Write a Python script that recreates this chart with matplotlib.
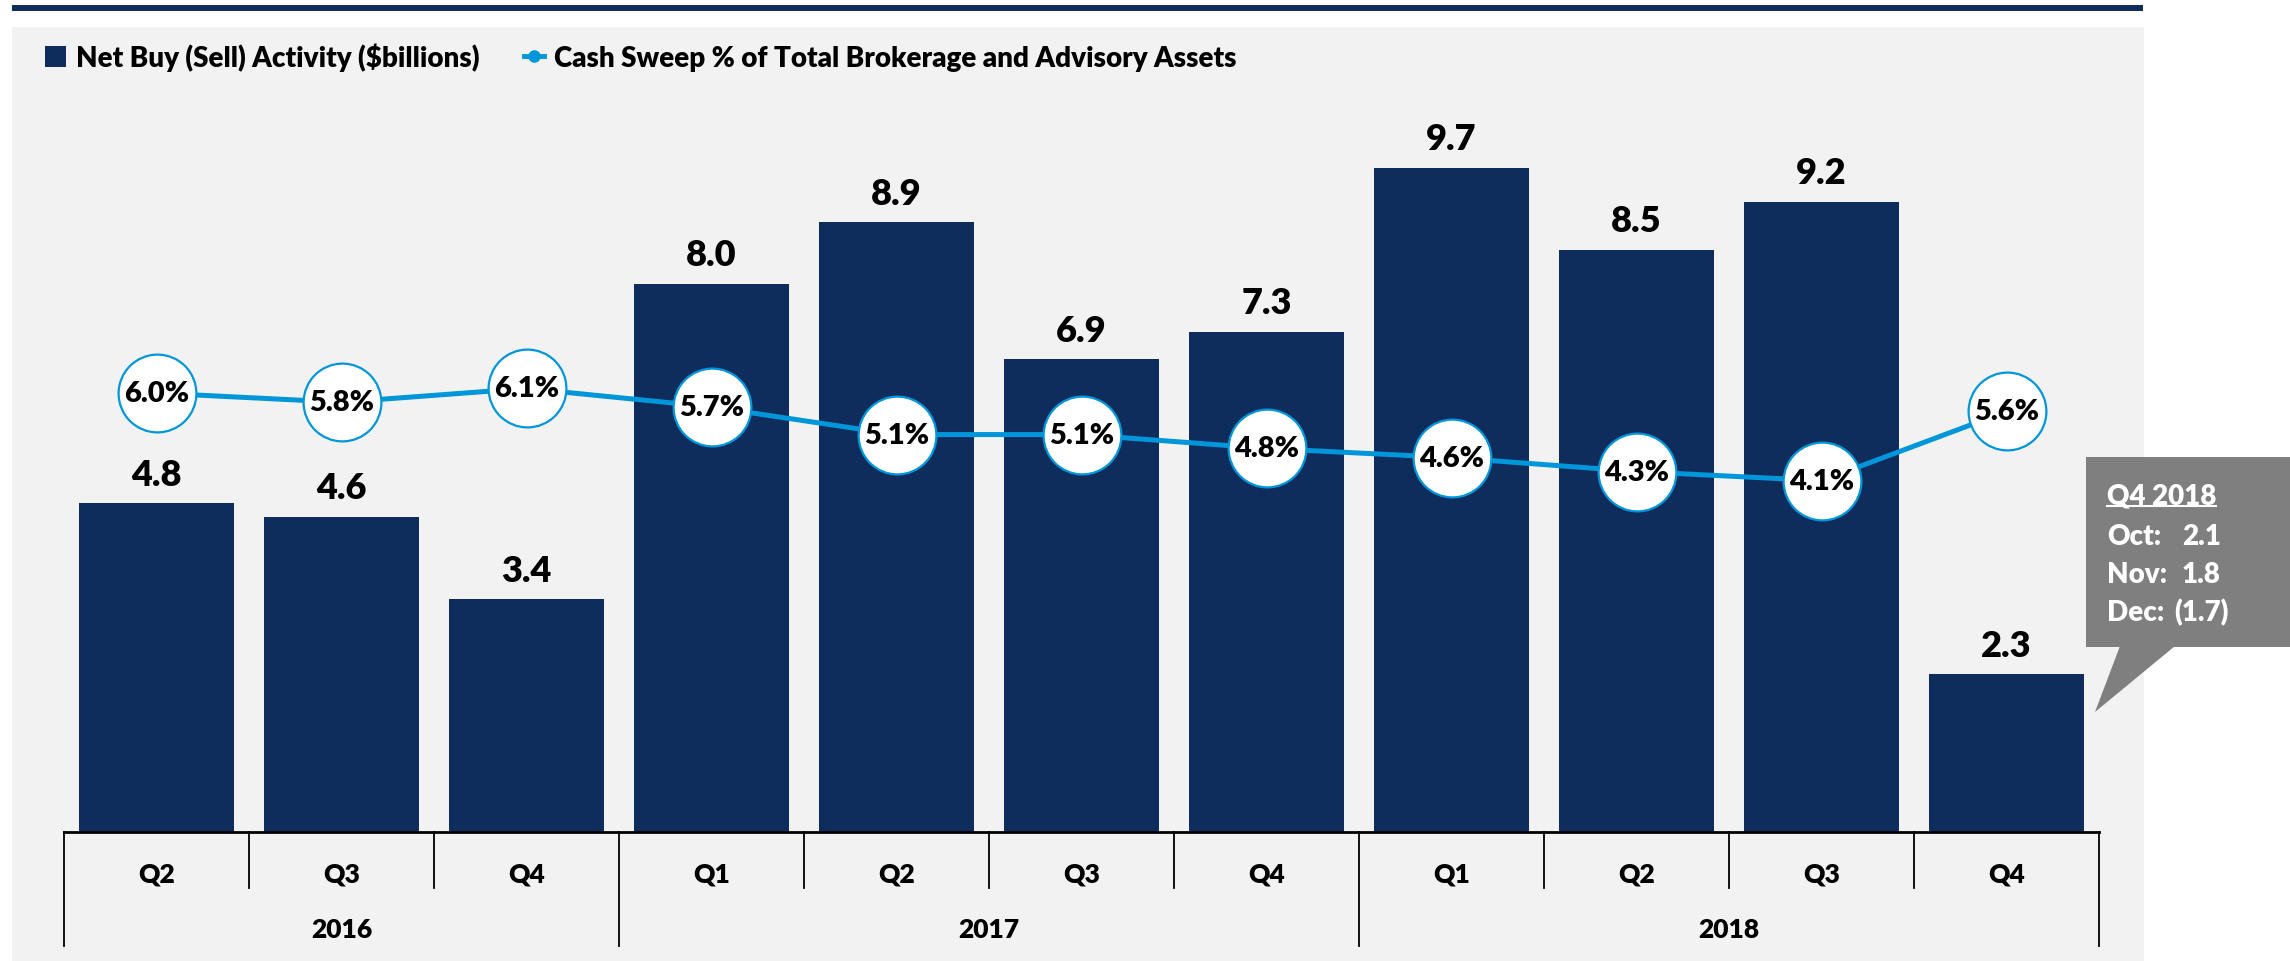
import matplotlib
matplotlib.use("Agg")
import matplotlib.pyplot as plt
from matplotlib.patches import Rectangle, Polygon
from matplotlib.lines import Line2D
from matplotlib.transforms import blended_transform_factory

# -------- Data
quarters = ["Q2", "Q3", "Q4", "Q1", "Q2", "Q3", "Q4", "Q1", "Q2", "Q3", "Q4"]
years = [2016, 2016, 2016, 2017, 2017, 2017, 2017, 2018, 2018, 2018, 2018]
net_buy = [4.8, 4.6, 3.4, 8.0, 8.9, 6.9, 7.3, 9.7, 8.5, 9.2, 2.3]
cash_sweep_pct = [6.0, 5.8, 6.1, 5.7, 5.1, 5.1, 4.8, 4.6, 4.3, 4.1, 5.6]
q4_months = ["Oct", "Nov", "Dec"]
q4_values = [2.1, 1.8, -1.7]

# -------- Style
NAVY = "#0E2C5C"
BLUE = "#0096DA"
PANEL = "#F2F2F2"
CALLOUT = "#7F7F7F"
W, H = 2290, 962
WEIGHT = "heavy"

plt.rcParams["font.family"] = ["Lato", "DejaVu Sans"]
plt.rcParams["font.weight"] = WEIGHT


def fx(px):
    return px / W


def fy(py):
    return 1 - py / H


fig = plt.figure(figsize=(W / 100, H / 100), dpi=100)

# background panel + top rule
fig.add_artist(Rectangle((fx(12), fy(962)), fx(2144) - fx(12), fy(28) - fy(962),
                         transform=fig.transFigure, facecolor=PANEL, edgecolor="none", zorder=-10))
fig.add_artist(Rectangle((fx(12), fy(12)), fx(2143) - fx(12), fy(6) - fy(12),
                         transform=fig.transFigure, facecolor=NAVY, edgecolor="none", zorder=-9))

ax = fig.add_axes([fx(64), fy(833), fx(2099) - fx(64), fy(100) - fy(833)])
ax.patch.set_visible(False)
x = list(range(len(net_buy)))
bars = ax.bar(x, net_buy, width=0.84, color=NAVY, zorder=2)
ax.bar_label(bars, labels=[f"{v:.1f}" for v in net_buy], padding=9,
             fontsize=26, fontweight=WEIGHT, color="black")
ax.set_xlim(-0.5, len(net_buy) - 0.5)
ax.set_ylim(0, 10.70)
for s in ["top", "left", "right"]:
    ax.spines[s].set_visible(False)
ax.spines["bottom"].set_linewidth(2.0)
ax.spines["bottom"].set_color("black")
ax.set_xticks([])
ax.set_yticks([])

ax2 = ax.twinx()
ax2.set_ylim(-3.51, 12.37)
ax2.plot(x, cash_sweep_pct, color=BLUE, linewidth=3.6, marker="o", markersize=56,
         markerfacecolor="white", markeredgecolor=BLUE, markeredgewidth=1.6, zorder=3)
for i, v in enumerate(cash_sweep_pct):
    ax2.text(i, v, f"{v:.1f}%", ha="center", va="center", fontsize=21,
             fontweight=WEIGHT, color="black", zorder=5)
for s in ax2.spines.values():
    s.set_visible(False)
ax2.set_yticks([])

# category axis (quarters / years)
tr = blended_transform_factory(ax.transData, fig.transFigure)
boundaries = [0] + [i for i in range(1, len(years)) if years[i] != years[i - 1]] + [len(years)]
for i in range(len(quarters) + 1):
    bottom = 947 if i in boundaries else 889
    fig.add_artist(Line2D([i - 0.5, i - 0.5], [fy(833), fy(bottom)], transform=tr,
                          color="black", linewidth=1.3))
for i, q in enumerate(quarters):
    fig.text(i, fy(875), q, transform=tr, ha="center", va="center", fontsize=19, fontweight=WEIGHT)
for a, b in zip(boundaries[:-1], boundaries[1:]):
    fig.text((a + b - 1) / 2, fy(930), str(years[a]), transform=tr, ha="center", va="center",
             fontsize=19, fontweight=WEIGHT)

# legend
handles = [
    Rectangle((0, 0), 1, 1, facecolor=NAVY, edgecolor="none"),
    Line2D([0], [0], color=BLUE, linewidth=3.5, marker="o", markersize=8,
           markerfacecolor=BLUE, markeredgecolor=BLUE),
]
fig.legend(handles, ["Net Buy (Sell) Activity ($billions)",
                     "Cash Sweep % of Total Brokerage and Advisory Assets"],
           loc="center left", bbox_to_anchor=(fx(20), fy(58)), ncol=2, frameon=False,
           prop={"size": 20, "weight": WEIGHT}, handlelength=0.75, handleheight=0.75,
           handletextpad=0.35, columnspacing=1.6)

# callout box
fig.add_artist(Rectangle((fx(2086), fy(648)), fx(2290) - fx(2086), fy(458) - fy(648),
                         transform=fig.transFigure, facecolor=CALLOUT, edgecolor="none"))
fig.add_artist(Polygon([(fx(2120), fy(647)), (fx(2175), fy(647)), (fx(2095), fy(713))],
                       closed=True, transform=fig.transFigure, facecolor=CALLOUT, edgecolor="none"))
title = fig.text(fx(2107), fy(497), "Q4 2018", color="white", fontsize=20,
                 fontweight=WEIGHT, ha="left", va="center")
rows_y = [537, 575, 613]
for m, v, yy in zip(q4_months, q4_values, rows_y):
    fig.text(fx(2107), fy(yy), f"{m}:", color="white", fontsize=20, fontweight=WEIGHT,
             ha="left", va="center")
    label = f"{v:.1f}" if v >= 0 else f"({abs(v):.1f})"
    fig.text(fx(2182) if v >= 0 else fx(2174), fy(yy), label, color="white", fontsize=20,
             fontweight=WEIGHT, ha="left", va="center")

fig.canvas.draw()
bb = title.get_window_extent()
inv = fig.transFigure.inverted()
(x0, y0), (x1, y1) = inv.transform([(bb.x0, bb.y0), (bb.x1, bb.y1)])
fig.add_artist(Line2D([x0, x1], [y0 + 0.003, y0 + 0.003], transform=fig.transFigure,
                      color="white", linewidth=1.5))

fig.savefig("out.png", dpi=100)
